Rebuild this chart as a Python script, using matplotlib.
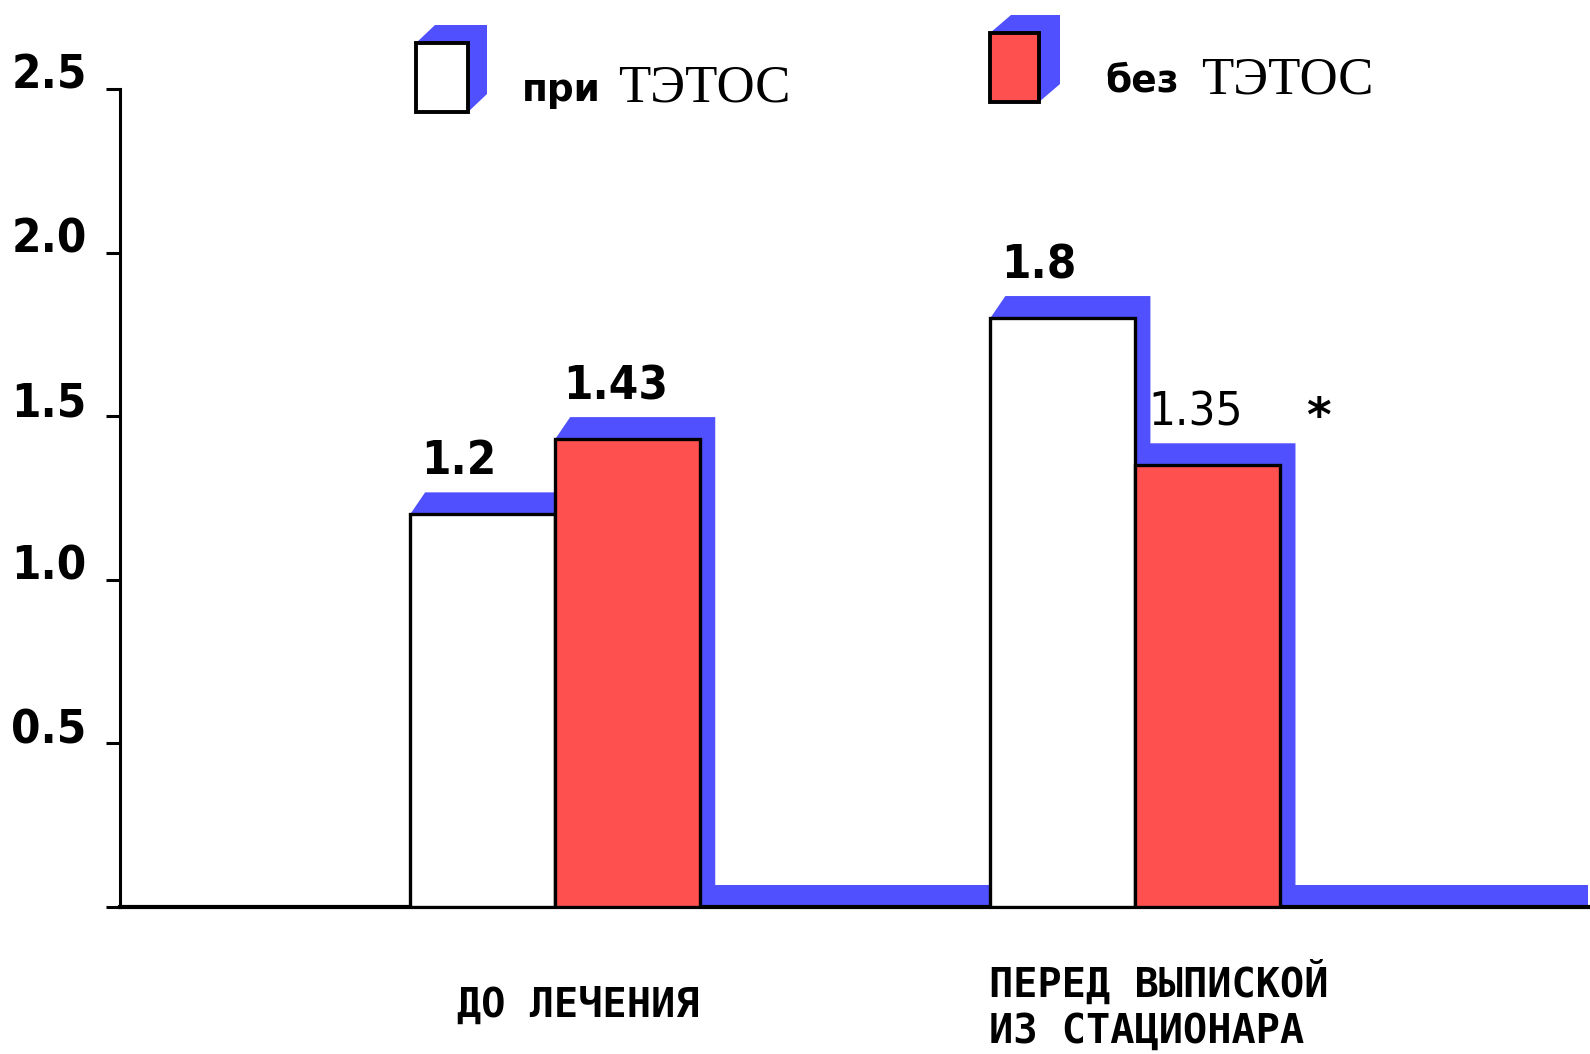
import matplotlib.pyplot as plt
import matplotlib.transforms as mtransforms
from matplotlib.patches import Polygon, Rectangle

# data
groups = ['ДО ЛЕЧЕНИЯ', 'ПЕРЕД ВЫПИСКОЙ\nИЗ СТАЦИОНАРА']
series_names = ['при', 'без']
series_word = 'ТЭТОС'
with_tetos = [1.2, 1.8]
without_tetos = [1.43, 1.35]
with_labels = ['1.2', '1.8']
without_labels = ['1.43', '1.35']
without_marks = ['', '*']
yticks = [0, 0.5, 1.0, 1.5, 2.0, 2.5]
ytick_labels = ['', '0.5', '1.0', '1.5', '2.0', '2.5']

W, H = 1590, 1054
RED = '#ff5050'
BLUE = '#5050ff'
NUM_FONT = ['Liberation Sans Narrow', 'DejaVu Sans']

fig = plt.figure(figsize=(W / 100, H / 100), dpi=100)
# pixel coords measured from top-left
px = mtransforms.Affine2D().scale(1, -1).translate(0, H).scale(1 / W, 1 / H) + fig.transFigure

ax_l, ax_r, ax_t, ax_b = 120, 1588, 89, 907
ax = fig.add_axes([ax_l / W, 1 - ax_b / H, (ax_r - ax_l) / W, (ax_b - ax_t) / H])
xlim = (-0.75, 1.78)
ax.set_xlim(*xlim)
ax.set_ylim(0, 2.5)

x = list(range(len(groups)))
w = 0.25
b1 = ax.bar([i - w / 2 for i in x], with_tetos, w, color='white', edgecolor='black', lw=2.4, zorder=3)
b2 = ax.bar([i + w / 2 for i in x], without_tetos, w, color=RED, edgecolor='black', lw=2.4, zorder=3)

# blue 3d depth behind bars
ppx = (ax_r - ax_l) / (xlim[1] - xlim[0])
ppy = (ax_b - ax_t) / 2.5
dx, dy = 15 / ppx, 22 / ppy
for r in list(b1) + list(b2):
    l, t, rr = r.get_x(), r.get_height(), r.get_x() + r.get_width()
    ax.add_patch(Polygon([(l, t), (l + dx, t + dy), (rr + dx, t + dy), (rr + dx, 0), (rr, 0), (rr, t)],
                         closed=True, color=BLUE, lw=0, zorder=1))
ax.fill_between([b1[0].get_x(), xlim[1]], 0, dy, color=BLUE, lw=0, zorder=1)

num = dict(fontsize=34, family=NUM_FONT, stretch='condensed')

# value labels
for r, s in zip(b1, with_labels):
    ax.annotate(s, (r.get_x() + r.get_width() / 2, r.get_height()), xytext=(-24, 40),
                textcoords='offset pixels', ha='center', va='baseline', fontweight='bold', **num)
for r, s, m in zip(b2, without_labels, without_marks):
    wt = 'normal' if m else 'bold'
    ax.annotate(s, (r.get_x() + r.get_width() / 2, r.get_height()), xytext=(-12, 40),
                textcoords='offset pixels', ha='center', va='baseline', fontweight=wt, **num)
    if m:
        ax.annotate(m, (r.get_x() + r.get_width() / 2, r.get_height()), xytext=(110, 34),
                    textcoords='offset pixels', ha='center', va='baseline',
                    fontsize=34, fontweight='bold', family='DejaVu Sans')

# group labels
for i, g in enumerate(groups):
    ax.text(i + 0.04, -0.12, g, transform=ax.get_xaxis_transform(), ha='center', va='center',
            multialignment='left', fontsize=29, fontweight='bold', family='DejaVu Sans Mono',
            linespacing=1.2)

# axes styling
for s in ['top', 'right']:
    ax.spines[s].set_visible(False)
ax.spines['left'].set_linewidth(2.2)
ax.spines['bottom'].set_linewidth(3)
ax.set_xticks([])
ax.set_yticks(yticks, ytick_labels)
ax.tick_params(axis='y', length=10, width=2.2, pad=14)
for lab in ax.get_yticklabels():
    lab.set_fontsize(34)
    lab.set_fontweight('bold')
    lab.set_family(NUM_FONT)
    lab.set_stretch('condensed')
    lab.set_va('baseline')

# legend drawn by hand
def legend_box(x0, y0, x1, y1, face, ox, oy):
    fig.add_artist(Polygon([(x0, y0), (x0 + ox, y0 - oy), (x1 + ox, y0 - oy), (x1 + ox, y1 - oy),
                            (x1, y1), (x1, y0)], closed=True, color=BLUE, lw=0, transform=px))
    fig.add_artist(Rectangle((x0, y0), x1 - x0, y1 - y0, facecolor=face, edgecolor='black',
                             lw=2.8, transform=px))

legend_box(416, 43, 468, 112, 'white', 19, 18)
legend_box(990, 33, 1039, 102, RED, 21, 18)
fig.text(522, 101, series_names[0], transform=px, fontsize=27, fontweight='bold', va='baseline')
fig.text(618, 102, series_word, transform=px, fontsize=38, family='Liberation Serif', va='baseline')
fig.text(1105, 91, series_names[1], transform=px, fontsize=27, fontweight='bold', va='baseline')
fig.text(1201, 93, series_word, transform=px, fontsize=38, family='Liberation Serif', va='baseline')

fig.savefig('out.png', dpi=100)
